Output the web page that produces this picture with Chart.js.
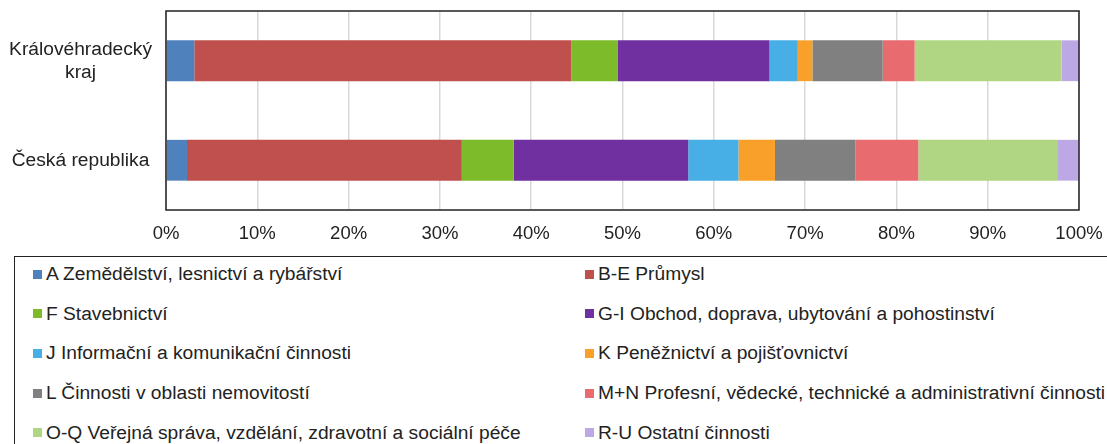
<!DOCTYPE html>
<html lang="cs">
<head>
<meta charset="utf-8">
<title>Struktura podle odvětví</title>
<script src="https://cdn.jsdelivr.net/npm/chart.js@4"></script>
<style>
  body { margin: 0; background: #fff; font-family: "Liberation Sans", Arial, sans-serif; }
  #wrap { position: relative; width: 1107px; height: 444px; overflow: hidden; }
  #graf { position: absolute; left: 0; top: 0; }
  #legenda {
    position: absolute; left: 14px; top: 256px; width: 1120px; height: 230px;
    border: 1.5px solid #222; box-sizing: border-box;
  }
  .polozka {
    position: absolute; height: 22px; display: flex; align-items: center;
    font-size: 19.2px; color: #222; white-space: nowrap;
  }
  .polozka span.box { width: 9px; height: 9px; margin-right: 4px; }
</style>
</head>
<body>
<div id="wrap">
  <canvas id="graf" width="1107" height="250"></canvas>
  <div id="legenda"></div>
</div>
<script>
// kategorie (osa Y)
const categories = [['Královéhradecký', 'kraj'], 'Česká republika'];

// odvětví
const sectors = [
  'A Zemědělství, lesnictví a rybářství',
  'B-E Průmysl',
  'F Stavebnictví',
  'G-I Obchod, doprava, ubytování a pohostinství',
  'J Informační a komunikační činnosti',
  'K Peněžnictví a pojišťovnictví',
  'L Činnosti v oblasti nemovitostí',
  'M+N Profesní, vědecké, technické a administrativní činnosti',
  'O-Q Veřejná správa, vzdělání, zdravotní a sociální péče',
  'R-U Ostatní činnosti'
];
const sectorColors = [
  '#4F81BD', '#C0504D', '#7DBB2B', '#7030A0', '#48AFE6',
  '#F8A02A', '#808080', '#E86B70', '#B0D684', '#BDA8E6'
];

// podíly v %
const krajShares = [3.1, 41.3, 5.1, 16.6, 3.1, 1.6, 7.7, 3.5, 16.1, 1.9];
const crShares   = [2.3, 30.1, 5.7, 19.1, 5.5, 4.0, 8.8, 6.9, 15.3, 2.3];

const xTicks = [0, 10, 20, 30, 40, 50, 60, 70, 80, 90, 100];

const FONT_TICK = { family: '"Liberation Sans", Arial, sans-serif', size: 18.5 };
const FONT_CAT = { family: '"Liberation Sans", Arial, sans-serif', size: 19.2, lineHeight: 1.2 };

const datasets = sectors.map((s, i) => ({
  label: s,
  data: [krajShares[i], crShares[i]],
  backgroundColor: sectorColors[i],
  borderWidth: 0,
  barPercentage: 1,
  categoryPercentage: 0.41
}));

// ramecek kolem plochy grafu
const ramecek = {
  id: 'ramecek',
  afterDraw(chart) {
    const { ctx, chartArea: a } = chart;
    ctx.save();
    ctx.strokeStyle = '#222';
    ctx.lineWidth = 1.5;
    ctx.strokeRect(a.left, a.top, a.right - a.left, a.bottom - a.top);
    ctx.restore();
  }
};

const chart = new Chart(document.getElementById('graf').getContext('2d'), {
  type: 'bar',
  data: { labels: categories, datasets: datasets },
  options: {
    indexAxis: 'y',
    responsive: false,
    animation: false,
    layout: { padding: { top: 11, right: 28, left: 0, bottom: 0 } },
    plugins: { legend: { display: false }, tooltip: { enabled: false } },
    scales: {
      x: {
        stacked: true, min: 0, max: 100,
        afterBuildTicks: s => { s.ticks = xTicks.map(v => ({ value: v })); },
        afterFit: s => { s.height = 40; s.paddingLeft = 0; s.paddingRight = 0; },
        grid: { color: '#D9D9D9', lineWidth: 1.5, drawTicks: false },
        border: { display: false },
        ticks: { callback: v => v + '%', color: '#222', font: FONT_TICK, padding: 13, maxRotation: 0 }
      },
      y: {
        stacked: true,
        afterFit: s => { s.width = 166; s.paddingTop = 0; s.paddingBottom = 0; },
        grid: { display: false, drawTicks: false },
        border: { display: false },
        ticks: { color: '#222', font: FONT_CAT, padding: 14, crossAlign: 'center' }
      }
    }
  },
  plugins: [ramecek]
});

// legenda ve dvou sloupcich
const legenda = document.getElementById('legenda');
chart.data.datasets.forEach((ds, i) => {
  const col = i % 2, row = Math.floor(i / 2);
  const el = document.createElement('div');
  el.className = 'polozka';
  el.style.left = (col === 0 ? 32 : 584) - 14 + 'px';
  el.style.top = (273 + row * 39.7) - 11 - 256 + 'px';
  el.innerHTML = `<span class="box" style="background:${ds.backgroundColor}"></span><span>${ds.label}</span>`;
  legenda.appendChild(el);
});
</script>
</body>
</html>
